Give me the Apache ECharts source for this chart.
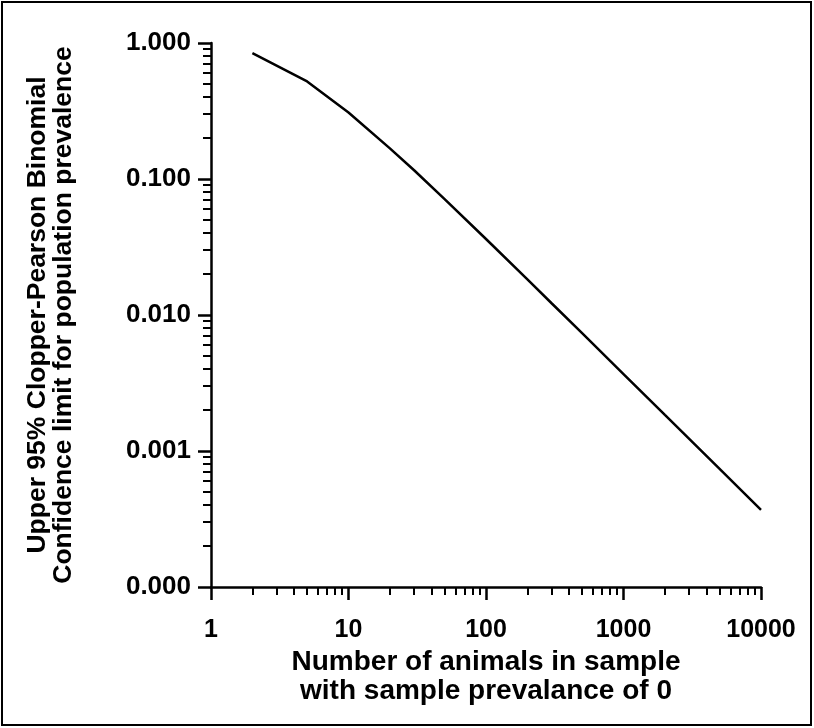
<!DOCTYPE html>
<html>
<head>
<meta charset="utf-8">
<script src="https://cdn.jsdelivr.net/npm/echarts@6/dist/echarts.min.js"></script>
<style>
  html, body { margin: 0; padding: 0; background: #fff; }
  #chart { width: 814px; height: 728px; }
</style>
</head>
<body>
<div id="chart"></div>
<script>
// sample size (animals) with 0 positives
const sampleSizes = [2, 5, 10, 20, 30, 50, 100, 200, 300, 500, 1000, 2000, 5000, 10000]
// upper 95% Clopper-Pearson limit
const upperLimit = [0.842, 0.522, 0.308, 0.168, 0.116, 0.0711, 0.0362, 0.0183, 0.0122, 0.00735, 0.00368, 0.00184, 0.000738, 0.000369]

const xMajor = [1, 10, 100, 1000, 10000]
const xMinor = [2, 3, 4, 5, 6, 7, 8, 9, 20, 30, 40, 50, 60, 70, 80, 90, 200, 300, 400, 500, 600, 700, 800, 900, 2000, 3000, 4000, 5000, 6000, 7000, 8000, 9000]
const yMajor = [0.0001, 0.001, 0.01, 0.1, 1]
const yMinor = [0.0002, 0.0003, 0.0004, 0.0005, 0.0006, 0.0007, 0.0008, 0.0009, 0.002, 0.003, 0.004, 0.005, 0.006, 0.007, 0.008, 0.009, 0.02, 0.03, 0.04, 0.05, 0.06, 0.07, 0.08, 0.09, 0.2, 0.3, 0.4, 0.5, 0.6, 0.7, 0.8, 0.9]

const xTitle = 'Number of animals in sample\nwith sample prevalance of 0'
const yTitle = 'Upper 95% Clopper-Pearson Binomial\nConfidence limit for population prevalence'

const font = 'Liberation Sans, Arial, sans-serif'
const axisColor = '#000'

let points = sampleSizes.map((n, i) => [n, upperLimit[i]])

let myChart = echarts.init(document.getElementById('chart'), null, { renderer: 'canvas' })

let option = {
  animation: false,
  backgroundColor: '#fff',
  grid: { left: 211, right: 53, top: 43, bottom: 141 },
  graphic: [{
    type: 'rect',
    shape: { x: 2, y: 2, width: 809, height: 723 },
    style: { fill: 'none', stroke: '#000', lineWidth: 2 },
    silent: true
  }],
  xAxis: [{
    type: 'log',
    logBase: 10,
    min: 1,
    max: 10000,
    name: xTitle,
    nameLocation: 'middle',
    nameGap: 60,
    nameTextStyle: { color: '#000', fontFamily: font, fontWeight: 'bold', fontSize: 28, lineHeight: 29 },
    axisLine: { lineStyle: { color: axisColor, width: 2.5 } },
    axisTick: { inside: false, length: 13, customValues: xMajor, lineStyle: { color: axisColor, width: 2.5 } },
    axisLabel: {
      customValues: xMajor,
      margin: 31,
      color: '#000', fontFamily: font, fontWeight: 'bold', fontSize: 25,
      formatter: function (v) { return String(Math.round(v)) }
    },
    splitLine: { show: false }
  }, {
    type: 'log',
    logBase: 10,
    min: 1,
    max: 10000,
    position: 'bottom',
    axisLine: { show: false },
    axisTick: { inside: false, length: 8, customValues: xMinor, lineStyle: { color: axisColor, width: 2 } },
    axisLabel: { show: false },
    splitLine: { show: false }
  }],
  yAxis: [{
    type: 'log',
    logBase: 10,
    min: 0.0001,
    max: 1,
    name: yTitle,
    nameLocation: 'middle',
    nameRotate: 90,
    nameGap: 134,
    nameTextStyle: { color: '#000', fontFamily: font, fontWeight: 'bold', fontSize: 26.5, lineHeight: 26 },
    axisLine: { lineStyle: { color: axisColor, width: 2.5 } },
    axisTick: { inside: false, length: 13, customValues: yMajor, lineStyle: { color: axisColor, width: 2.5 } },
    axisLabel: {
      customValues: yMajor,
      margin: 20,
      color: '#000', fontFamily: font, fontWeight: 'bold', fontSize: 26,
      formatter: function (v) { return Number(v).toFixed(3) }
    },
    splitLine: { show: false }
  }, {
    type: 'log',
    logBase: 10,
    min: 0.0001,
    max: 1,
    position: 'left',
    axisLine: { show: false },
    axisTick: { inside: false, length: 8, customValues: yMinor, lineStyle: { color: axisColor, width: 2 } },
    axisLabel: { show: false },
    splitLine: { show: false }
  }],
  series: [{
    type: 'line',
    xAxisIndex: 0,
    yAxisIndex: 0,
    data: points,
    symbol: 'none',
    lineStyle: { color: '#000', width: 2.5 }
  }]
}

myChart.setOption(option)
</script>
</body>
</html>
